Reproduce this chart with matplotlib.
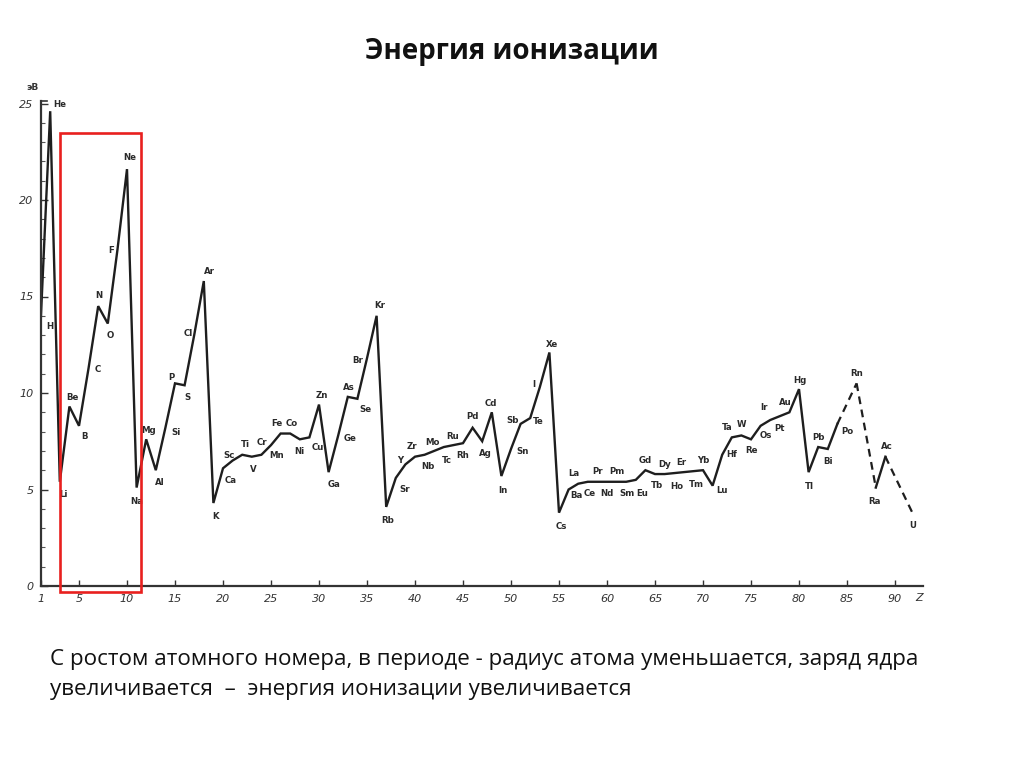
import matplotlib
matplotlib.use('Agg')
import matplotlib.pyplot as plt
from matplotlib.patches import Rectangle
from matplotlib.transforms import blended_transform_factory

# ---------------- data ----------------
symbols = ['H', 'He', 'Li', 'Be', 'B', 'C', 'N', 'O', 'F', 'Ne',
           'Na', 'Mg', 'Al', 'Si', 'P', 'S', 'Cl', 'Ar', 'K', 'Ca',
           'Sc', 'Ti', 'V', 'Cr', 'Mn', 'Fe', 'Co', 'Ni', 'Cu', 'Zn',
           'Ga', 'Ge', 'As', 'Se', 'Br', 'Kr', 'Rb', 'Sr', 'Y', 'Zr',
           'Nb', 'Mo', 'Tc', 'Ru', 'Rh', 'Pd', 'Ag', 'Cd', 'In', 'Sn',
           'Sb', 'Te', 'I', 'Xe', 'Cs', 'Ba', 'La', 'Ce', 'Pr', 'Nd',
           'Pm', 'Sm', 'Eu', 'Gd', 'Tb', 'Dy', 'Ho', 'Er', 'Tm', 'Yb',
           'Lu', 'Hf', 'Ta', 'W', 'Re', 'Os', 'Ir', 'Pt', 'Au', 'Hg',
           'Tl', 'Pb', 'Bi', 'Po', 'Rn', 'Ra', 'Ac', 'U']
z_numbers = list(range(1, 85)) + [86, 88, 89, 92]
energies = [13.6, 24.6, 5.4, 9.3, 8.3, 11.3, 14.5, 13.6, 17.4, 21.6,
            5.1, 7.6, 6.0, 8.2, 10.5, 10.4, 13.0, 15.8, 4.3, 6.1,
            6.5, 6.8, 6.7, 6.8, 7.3, 7.9, 7.9, 7.6, 7.7, 9.4,
            5.9, 7.8, 9.8, 9.7, 11.8, 14.0, 4.1, 5.6, 6.3, 6.7,
            6.8, 7.0, 7.2, 7.3, 7.4, 8.2, 7.5, 9.0, 5.7, 7.1,
            8.4, 8.7, 10.3, 12.1, 3.8, 5.0, 5.3, 5.4, 5.4, 5.4,
            5.4, 5.4, 5.5, 6.0, 5.8, 5.8, 5.85, 5.9, 5.95, 6.0,
            5.2, 6.8, 7.7, 7.8, 7.6, 8.3, 8.6, 8.8, 9.0, 10.2,
            5.9, 7.2, 7.1, 8.4, 10.5, 5.1, 6.7, 3.6]
x_ticks = [1, 5, 10, 15, 20, 25, 30, 35, 40, 45, 50, 55, 60, 65, 70, 75, 80, 85, 90]
x_tick_labels = [str(v) for v in x_ticks]
y_ticks = [0, 5, 10, 15, 20, 25]
y_tick_labels = [str(v) for v in y_ticks]

title = 'Энергия ионизации'
caption_1 = 'С ростом атомного номера, в периоде - радиус атома уменьшается, заряд ядра'
caption_2 = 'увеличивается  –  энергия ионизации увеличивается'

# label offsets (pixels, right/up) for the element symbols
label_offsets = {
    'H': (9, -3), 'He': (10, 7), 'Li': (4, -13), 'Be': (3, 9), 'B': (5, -11),
    'C': (9, -2), 'N': (1, 11), 'O': (2, -12), 'F': (-6, 0), 'Ne': (3, 12),
    'Na': (0, -14), 'Mg': (2, 9), 'Al': (4, -12), 'Si': (11, -5), 'P': (-4, 6),
    'S': (3, -12), 'Cl': (-6, 2), 'Ar': (6, 10), 'K': (2, -13), 'Ca': (8, -12),
    'Sc': (-4, 5), 'Ti': (3, 10), 'V': (1, -13), 'Cr': (1, 12), 'Mn': (6, -10),
    'Fe': (-4, 10), 'Co': (2, 10), 'Ni': (0, -12), 'Cu': (8, -10), 'Zn': (3, 9),
    'Ga': (5, -12), 'Ge': (12, -3), 'As': (1, 9), 'Se': (8, -11), 'Br': (-9, -2),
    'Kr': (3, 10), 'Rb': (1, -14), 'Sr': (9, -12), 'Y': (-5, 4), 'Zr': (-3, 10),
    'Nb': (3, -12), 'Mo': (-2, 8), 'Tc': (3, -13), 'Ru': (-1, 9), 'Rh': (0, -12),
    'Pd': (0, 11), 'Ag': (3, -12), 'Cd': (-1, 9), 'In': (1, -15), 'Sn': (12, -3),
    'Sb': (-8, 3), 'Te': (8, -3), 'I': (-6, 3), 'Xe': (3, 8), 'Cs': (2, -14),
    'Ba': (8, -6), 'La': (-4, 10), 'Ce': (2, -12), 'Pr': (0, 10), 'Nd': (0, -12),
    'Pm': (0, 10), 'Sm': (1, -12), 'Eu': (6, -14), 'Gd': (0, 10), 'Tb': (2, -11),
    'Dy': (0, 10), 'Ho': (3, -13), 'Er': (-2, 10), 'Tm': (3, -13), 'Yb': (0, 10),
    'Lu': (9, -5), 'Hf': (9, 0), 'Ta': (-5, 10), 'W': (0, 11), 'Re': (0, -11),
    'Os': (5, -10), 'Ir': (-6, 13), 'Pt': (0, -12), 'Au': (-4, 10), 'Hg': (1, 9),
    'Tl': (1, -14), 'Pb': (0, 10), 'Bi': (0, -13), 'Po': (10, -8), 'Rn': (0, 10),
    'Ra': (-1, -14), 'Ac': (1, 10), 'U': (-2, -9),
}

# ---------------- figure ----------------
W, H = 1024, 768
fig = plt.figure(figsize=(W / 100, H / 100), dpi=100)
fig.patch.set_facecolor('white')

x0_px, x1_px, y0_px, y1_px = 40.6, 923, 586, 101
ax = fig.add_axes([x0_px / W, (H - y0_px) / H, (x1_px - x0_px) / W, (y0_px - y1_px) / H])
ax.set_xlim(1, 1 + (x1_px - x0_px) / 9.6)
ax.set_ylim(0, (y0_px - y1_px) / 19.3)
ax.patch.set_alpha(0)

ink = '#1e1e1e'

# the curve: solid where elements are consecutive, dashed across gaps
run_x, run_y = [z_numbers[0]], [energies[0]]
for i in range(1, len(z_numbers)):
    if z_numbers[i] - z_numbers[i - 1] == 1:
        run_x.append(z_numbers[i]); run_y.append(energies[i])
    else:
        if len(run_x) > 1:
            ax.plot(run_x, run_y, color=ink, lw=1.7, solid_joinstyle='miter')
        ax.plot([z_numbers[i - 1], z_numbers[i]], [energies[i - 1], energies[i]],
                color=ink, lw=1.6, ls=(0, (3.5, 2.5)))
        run_x, run_y = [z_numbers[i]], [energies[i]]
if len(run_x) > 1:
    ax.plot(run_x, run_y, color=ink, lw=1.7)

for s, z, e in zip(symbols, z_numbers, energies):
    dx, dy = label_offsets.get(s, (0, 10))
    ax.annotate(s, (z, e), xytext=(dx, dy), textcoords='offset pixels',
                ha='center', va='center', fontsize=6.2, color='#2a2a2a',
                family='DejaVu Sans', fontweight='bold')

# axes styling
for side in ('top', 'right'):
    ax.spines[side].set_visible(False)
for side in ('left', 'bottom'):
    ax.spines[side].set_linewidth(1.6)
    ax.spines[side].set_color('#333333')

ax.set_xticks(x_ticks)
ax.set_xticklabels(x_tick_labels, fontsize=8, style='italic', color='#333333')
ax.set_yticks(y_ticks)
ax.set_yticklabels(y_tick_labels, fontsize=8, style='italic', color='#333333')
ax.set_yticks(range(0, 26), minor=True)
ax.tick_params(axis='x', direction='in', length=4, width=1, pad=6, colors='#333333')
ax.tick_params(axis='y', which='major', direction='in', length=5, width=1, pad=5, colors='#333333')
ax.tick_params(axis='y', which='minor', direction='in', length=3, width=0.8, colors='#555555')

# small cap at the top of the energy axis
ax.plot([0, 0.007], [1, 1], transform=ax.transAxes, color='#333333', lw=1.2, clip_on=False)

trans = blended_transform_factory(ax.transData, ax.transAxes)
ax.text(92.5, -0.025, 'Z', transform=trans, ha='center', va='center',
        fontsize=8, style='italic', color='#333333')
fig.text(32 / W, 1 - 88 / H, 'эВ', ha='center', va='center', fontsize=6.5,
         color='#333333', fontweight='bold')

# red frame
fig.patches.append(Rectangle((60 / W, (H - 592) / H), 81 / W, 459 / H,
                             transform=fig.transFigure, fill=False,
                             edgecolor='#e8201e', lw=1.9))

fig.text(512 / W, 1 - 52 / H, title, ha='center', va='center', fontsize=20,
         fontweight='bold', family='Open Sans', color='#111111')
fig.text(50 / W, 1 - 659 / H, caption_1, ha='left', va='center', fontsize=16.1,
         family='Open Sans', color='#111111')
fig.text(50 / W, 1 - 689 / H, caption_2, ha='left', va='center', fontsize=16.1,
         family='Open Sans', color='#111111')

fig.savefig('out.png', dpi=100)
